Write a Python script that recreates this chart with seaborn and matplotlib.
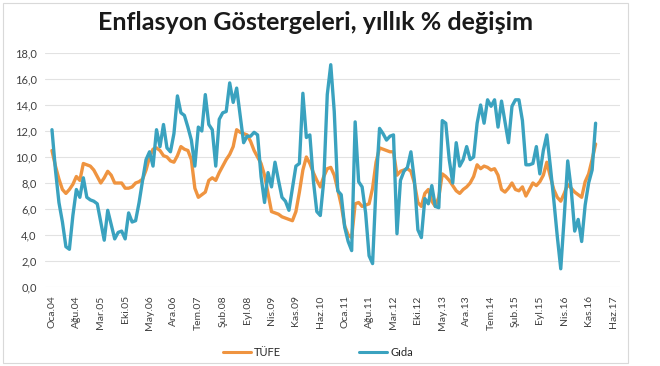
import numpy as np
import pandas as pd
import seaborn as sns
import matplotlib.pyplot as plt
from matplotlib.patches import Rectangle

# monthly yearly % change, Oca.04 onwards
tufe = [10.5, 9.3, 8.3, 7.5, 7.2, 7.5, 7.9, 8.5, 8.2, 9.5,
        9.4, 9.3, 9.0, 8.5, 8.0, 8.4, 8.9, 8.6, 8.0, 8.0,
        8.0, 7.6, 7.6, 7.7, 8.0, 8.1, 8.3, 9.0, 10.0, 10.6,
        10.7, 10.5, 10.1, 10.0, 9.7, 9.6, 10.1, 10.8, 10.6, 10.5,
        9.8, 7.6, 6.9, 7.1, 7.3, 8.2, 8.4, 8.2, 8.8, 9.3,
        9.8, 10.2, 10.8, 12.1, 11.9, 11.8, 11.7, 11.2, 10.5, 10.0,
        9.5, 8.6, 7.2, 5.8, 5.7, 5.6, 5.4, 5.3, 5.2, 5.1,
        5.8, 7.3, 9.0, 10.0, 9.5, 8.8, 8.2, 7.7, 8.5, 9.1,
        9.2, 8.6, 7.5, 6.3, 4.7, 4.0, 3.8, 6.4, 6.5, 6.2,
        6.3, 6.4, 7.6, 9.6, 10.7, 10.6, 10.5, 10.4, 10.4, 8.6,
        8.9, 9.0, 9.1, 8.9, 8.0, 6.5, 6.2, 7.2, 7.5, 6.6,
        6.2, 6.9, 8.7, 8.5, 8.2, 7.8, 7.4, 7.2, 7.5, 7.7,
        8.0, 8.5, 9.4, 9.1, 9.3, 9.2, 9.0, 9.1, 8.6, 7.5,
        7.3, 7.6, 8.0, 7.5, 7.4, 7.7, 7.0, 7.5, 8.0, 7.8,
        8.1, 8.6, 9.6, 8.5, 7.5, 6.9, 6.6, 7.2, 7.9, 7.6,
        7.3, 7.1, 6.9, 8.1, 8.7, 9.8, 11.0]

gida = [12.1, 9.0, 6.5, 5.0, 3.1, 2.9, 5.5, 7.5, 6.9, 8.4,
        6.9, 6.7, 6.6, 6.4, 5.0, 3.6, 5.9, 4.8, 3.7, 4.2,
        4.3, 3.7, 5.7, 5.0, 5.1, 6.5, 8.2, 9.8, 10.4, 9.3,
        12.1, 10.8, 12.5, 10.7, 10.4, 11.8, 14.7, 13.4, 13.2, 12.3,
        11.3, 9.3, 12.3, 12.0, 14.8, 12.5, 12.1, 9.3, 12.9, 13.4,
        13.5, 15.7, 14.2, 15.3, 13.2, 11.1, 11.6, 11.6, 11.9, 11.7,
        8.5, 6.5, 8.8, 7.7, 9.6, 8.2, 6.9, 6.6, 5.9, 7.6,
        9.3, 9.5, 14.9, 11.5, 11.7, 8.2, 5.8, 5.5, 8.2, 14.8,
        17.1, 13.5, 7.4, 7.1, 4.6, 3.5, 2.8, 12.7, 8.1, 7.7,
        5.7, 2.4, 1.8, 7.8, 12.2, 11.8, 11.3, 11.6, 11.7, 4.1,
        8.2, 8.9, 9.2, 10.4, 8.2, 4.4, 3.8, 6.8, 6.4, 7.8,
        6.2, 6.1, 12.8, 12.6, 9.8, 8.0, 11.1, 9.3, 9.8, 10.8,
        9.8, 10.0, 12.6, 14.0, 12.6, 14.4, 13.9, 14.4, 12.3, 14.3,
        12.7, 11.1, 13.9, 14.4, 14.4, 12.8, 9.4, 9.4, 9.5, 10.8,
        8.7, 10.5, 11.7, 9.3, 6.7, 3.9, 1.4, 5.4, 9.7, 7.5,
        4.3, 5.2, 3.5, 6.3, 8.0, 9.0, 12.6]

tick_labels = ["Oca.04", "Ağu.04", "Mar.05", "Eki.05", "May.06", "Ara.06",
               "Tem.07", "Şub.08", "Eyl.08", "Nis.09", "Kas.09", "Haz.10",
               "Oca.11", "Ağu.11", "Mar.12", "Eki.12", "May.13", "Ara.13",
               "Tem.14", "Şub.15", "Eyl.15", "Nis.16", "Kas.16", "Haz.17"]

series_names = ["TÜFE", "Gıda"]
colors = ["#EF9440", "#3AA2BF"]

df = pd.DataFrame({"ay": np.arange(len(tufe)), "TÜFE": tufe, "Gıda": gida})
long_df = df.melt(id_vars="ay", var_name="seri", value_name="deger")

sns.set_style("white")
plt.rcParams['font.family'] = ['Lato', 'DejaVu Sans']

fig = plt.figure(figsize=(6.6, 3.66), dpi=100)
ax = fig.add_axes([45 / 660, 1 - 287 / 366, 575 / 660, 234 / 366])

sns.lineplot(data=long_df, x="ay", y="deger", hue="seri", hue_order=series_names,
             palette=colors, linewidth=2.4, ax=ax, legend=False)

ax.set_xlim(-2, 163)
ax.set_ylim(0, 18)
ax.set_yticks(np.arange(0, 19, 2))
ax.set_yticklabels([f"{v:.1f}".replace(".", ",") for v in np.arange(0, 19, 2)],
                   fontsize=8, color="#404040")
ax.set_xticks(np.arange(0, 7 * len(tick_labels), 7))
ax.set_xticklabels(tick_labels, rotation=90, fontsize=7.5, color="#404040")
ax.tick_params(length=0, pad=6)
ax.set_xlabel("")
ax.set_ylabel("")
ax.grid(axis="y", color="#e2e2e2", linewidth=0.8)
ax.set_axisbelow(True)
for s in ax.spines.values():
    s.set_visible(False)

fig.text(315 / 660, 1 - 22 / 366, "Enflasyon Göstergeleri, yıllık % değişim",
         ha="center", va="center", fontsize=18, fontweight="bold", color="#1a1a1a")

handles = [plt.Line2D([], [], color=c, linewidth=2.2) for c in colors]
fig.legend(handles, series_names, loc="center", bbox_to_anchor=(318 / 660, 1 - 352 / 366),
           ncol=2, frameon=False, fontsize=8, columnspacing=7, handlelength=2.5,
           handletextpad=0.3)

fig.patches.append(Rectangle((3 / 660, 3 / 366), 625 / 660, 360 / 366,
                             transform=fig.transFigure, fill=False,
                             edgecolor="#d9d9d9", linewidth=0.8))

plt.savefig("out.png", dpi=100)
